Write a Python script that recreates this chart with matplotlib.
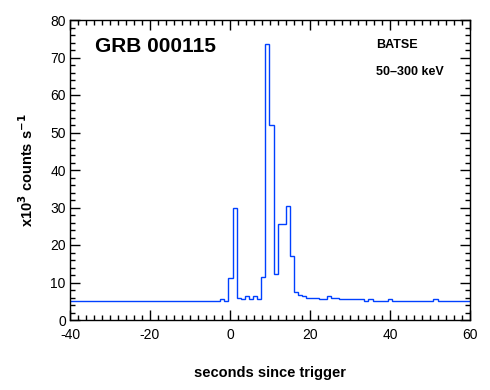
import matplotlib
matplotlib.use("Agg")
import matplotlib.pyplot as plt
from matplotlib.ticker import MultipleLocator

# Bin edges (seconds since trigger) and count rates (x10^3 counts/s)
edges = [-40, -2.5, -1.5, -0.5, 0.67, 1.83, 2.83, 3.83, 4.83, 5.83, 6.83, 7.83,
         8.83, 9.83, 11.08, 12.08, 14.08, 15.08, 16.1, 17.0, 18.0, 19.0, 22.3,
         24.3, 25.3, 27.3, 33.6, 34.6, 35.7, 39.4, 40.6, 50.8, 51.9, 60]
rates = [5.2, 5.5, 5.2, 11.1, 29.8, 6.0, 5.5, 6.3, 5.5, 6.3, 5.5, 11.4,
         73.5, 51.9, 12.4, 25.6, 30.4, 17.2, 7.4, 6.7, 6.3, 5.9,
         5.6, 6.4, 5.9, 5.5, 5.2, 5.5, 5.2, 5.5, 5.2, 5.5, 5.2]

title = "GRB 000115"
instrument = "BATSE"
band = "50\u2013300 keV"

plt.rcParams['font.family'] = ['Liberation Sans', 'DejaVu Sans']
plt.rcParams['axes.unicode_minus'] = False

fig = plt.figure(figsize=(4.9, 3.9), dpi=100)
ax = fig.add_axes([70/490, 1-320/390, 400/490, 300/390])

ax.stairs(rates, edges, color='#0040ff', lw=1.0, baseline=None)

ax.set_xlim(-40, 60)
ax.set_ylim(0, 80)
ax.xaxis.set_major_locator(MultipleLocator(20))
ax.xaxis.set_minor_locator(MultipleLocator(2))
ax.yaxis.set_major_locator(MultipleLocator(10))
ax.yaxis.set_minor_locator(MultipleLocator(2))
ax.tick_params(which='both', direction='in', top=True, right=True, width=1, colors='black', labelsize=10)
ax.tick_params(which='major', length=7)
ax.tick_params(which='minor', length=3.5)
ax.tick_params(axis='x', pad=6)
ax.tick_params(axis='y', pad=3)
for lbl in ax.get_yticklabels():
    lbl.set_verticalalignment('center_baseline')
for s in ax.spines.values():
    s.set_linewidth(1)

ax.set_xlabel("seconds since trigger", fontweight='bold', fontsize=10.5, labelpad=17)
ax.set_ylabel("x10$^{\\mathbf{3}}$ counts s$^{\\mathbf{-1}}$", fontweight='bold', fontsize=10.5, labelpad=10)

ax.text(25/400, 1-27/300, title, transform=ax.transAxes, fontsize=15, fontweight='bold', va='center', ha='left')
ax.text(306/400, 1-25/300, instrument, transform=ax.transAxes, fontsize=9, fontweight='bold', va='center', ha='left')
ax.text(306/400, 1-52/300, band, transform=ax.transAxes, fontsize=9, fontweight='bold', va='center', ha='left')

fig.savefig("out.png", dpi=100)
